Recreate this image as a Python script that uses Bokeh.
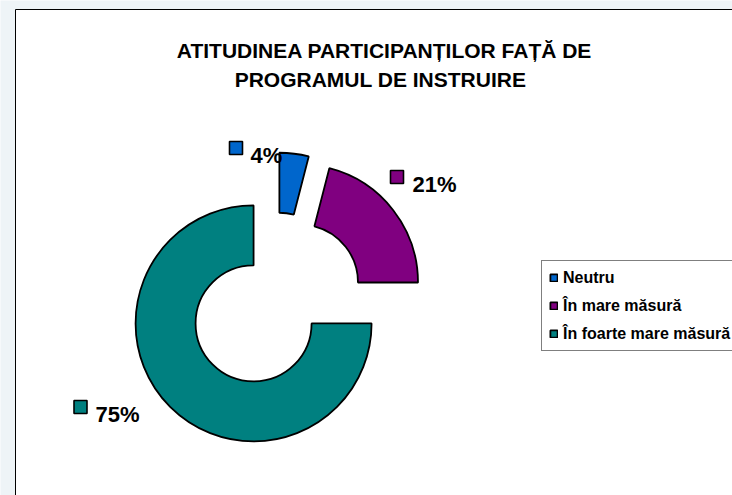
import math
from bokeh.plotting import figure
from bokeh.models import ColumnDataSource, Range1d, Legend, LegendItem
from bokeh.core.properties import value
from bokeh.embed import file_html
from bokeh.resources import INLINE

# ---- data ----
categories = ["Neutru", "În mare măsură", "În foarte mare măsură"]
percents = [4, 21, 75]
colors = ["#0066CC", "#800080", "#008080"]
label_texts = ["4%", "21%", "75%"]
title_lines = ["ATITUDINEA PARTICIPANȚILOR FAȚĂ DE", "PROGRAMUL DE INSTRUIRE"]

# ---- layout (page pixel coordinates; y grows downward, converted below) ----
W, H = 732, 495
CX, CY = 275, 301          # donut centre before explosion
R_OUT, R_IN = 118, 58
EXPLODE = 31
label_square_xy = [(235.5, 147.5), (396.5, 176.5), (80, 406.5)]
label_text_xy = [(250, 155), (412, 184), (95, 414)]
FONT = "Liberation Sans"

p = figure(width=W, height=H, output_backend="svg", toolbar_location=None,
           x_range=Range1d(0, W), y_range=Range1d(-H, 0),
           x_axis_location=None, y_axis_location=None, min_border=0,
           background_fill_color="#eef4f7", border_fill_color="#eef4f7",
           outline_line_color=None)
p.xgrid.visible = False
p.ygrid.visible = False

# chart area (white with black border)
p.quad(left=[15], right=[900], top=[-9], bottom=[-900],
       fill_color="white", line_color="black", line_width=1)

# wedge geometry from data
total = float(sum(percents))
starts, ends, xs, ys = [], [], [], []
acc = 0.0
for v in percents:
    a0 = acc / total * 360.0
    a1 = (acc + v) / total * 360.0
    mid = math.radians((a0 + a1) / 2.0)
    starts.append(math.radians(90.0 - a1))
    ends.append(math.radians(90.0 - a0))
    xs.append(CX + EXPLODE * math.sin(mid))
    ys.append(-CY + EXPLODE * math.cos(mid))
    acc += v

src = ColumnDataSource(dict(x=xs, y=ys, start=starts, end=ends,
                            color=colors, cat=categories))
r = p.annular_wedge(x="x", y="y", inner_radius=R_IN, outer_radius=R_OUT,
                    start_angle="start", end_angle="end", source=src,
                    fill_color="color", line_color="black", line_width=1.8)

# data labels
lab = ColumnDataSource(dict(
    sx=[s[0] for s in label_square_xy], sy=[-s[1] for s in label_square_xy],
    tx=[t[0] for t in label_text_xy], ty=[-t[1] for t in label_text_xy],
    color=colors, text=label_texts))
p.scatter(x="sx", y="sy", source=lab, marker="square", size=13,
          fill_color="color", line_color="black", line_width=1.6)
p.text(x="tx", y="ty", text="text", source=lab, text_font=value(FONT),
       text_font_style="bold", text_font_size="22px", text_color="black",
       text_align="left", text_baseline="alphabetic")

# title
p.text(x=[384, 380], y=[-50, -79], text=title_lines, text_font=value(FONT),
       text_font_style="bold", text_font_size="21px", text_color="black",
       text_align="center", text_baseline="alphabetic")

# legend
items = [LegendItem(label=c, renderers=[r], index=i) for i, c in enumerate(categories)]
legend = Legend(items=items, location=(541, 144), orientation="vertical",
                label_text_font=FONT, label_text_font_style="bold",
                label_text_font_size="16px", label_text_color="black",
                glyph_width=9, glyph_height=9, label_standoff=5,
                label_height=19, spacing=9, padding=7, margin=0,
                border_line_color="black", border_line_width=1,
                background_fill_color="white", background_fill_alpha=1.0)
p.add_layout(legend, "center")

open("out.html", "w").write(file_html(p, INLINE))
